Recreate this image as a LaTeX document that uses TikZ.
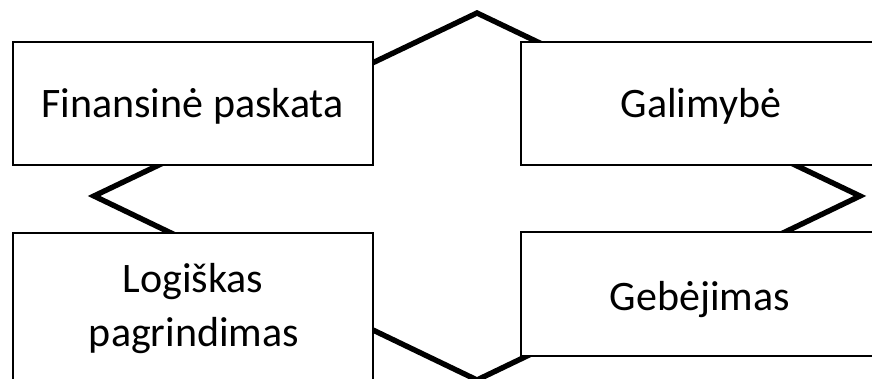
\documentclass[tikz,border=0pt]{standalone}
\usepackage{fontspec}
\setmainfont{Carlito}
\begin{document}
\begin{tikzpicture}[x=1pt,y=-1pt,
  boxnode/.style={draw=black,line width=2pt,fill=white,rectangle,inner sep=0pt},
  lbl/.style={anchor=base,inner sep=0pt,font=\fontsize{42}{54}\selectfont},
  rim/.style={draw=black,line width=5.4pt,line join=miter}]
\useasboundingbox (0,0) rectangle (872,379);
\clip (0,0) rectangle (872,379);
\fill[white] (0,0) rectangle (872,379);
% diamond behind the boxes
\coordinate (dtop) at (477,13);
\coordinate (dright) at (860,196);
\coordinate (dbottom) at (477,380);
\coordinate (dleft) at (94,196);
\draw[rim] (dtop) -- (dright) -- (dbottom) -- (dleft) -- cycle;
% boxes
\node[boxnode,minimum width=360pt,minimum height=123pt] (b1) at (192.5,104) {};
\node[boxnode,minimum width=365pt,minimum height=123pt] (b2) at (703,104) {};
\node[boxnode,minimum width=360pt,minimum height=170pt] (b3) at (192.5,318) {};
\node[boxnode,minimum width=365pt,minimum height=123pt] (b4) at (703,294) {};
% labels
\node[lbl] (t1) at (192.5,118) {Finansinė paskata};
\node[lbl] (t2) at (701,118) {Galimybė};
\node[lbl] (t3a) at (193,292) {Logiškas};
\node[lbl] (t3b) at (194,346) {pagrindimas};
\node[lbl] (t4) at (700,310) {Gebėjimas};
\end{tikzpicture}
\end{document}
